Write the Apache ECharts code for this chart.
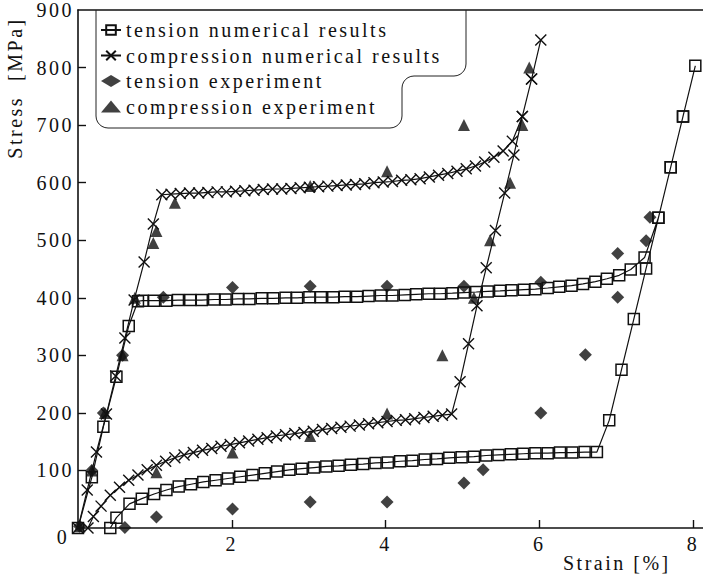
<!DOCTYPE html>
<html>
<head>
<meta charset="utf-8">
<script src="https://cdn.jsdelivr.net/npm/echarts@6/dist/echarts.min.js"></script>
<style>
    html, body { margin: 0; padding: 0; background: #fff; }
    #chart { width: 703px; height: 578px; }
    #chart text { letter-spacing: 2.5px; }
</style>
</head>
<body>
<div id="chart"></div>
<script>
// tension, numerical (strain %, stress MPa) - loading then unloading
var tensionNumLoad = [
    [0, 0], [0.18, 88], [0.33, 176], [0.5, 263], [0.66, 351], [0.78, 394],
    [0.84, 395], [0.99, 395], [1.15, 395], [1.30, 396], [1.46, 396], [1.61, 396], [1.77, 397], [1.92, 397],
    [2.08, 398], [2.23, 398], [2.39, 399], [2.54, 399], [2.70, 400], [2.85, 400], [3.01, 401], [3.16, 401],
    [3.32, 401], [3.47, 402], [3.63, 402], [3.78, 403], [3.94, 404], [4.09, 404], [4.25, 405], [4.40, 406],
    [4.56, 407], [4.71, 407], [4.87, 408], [5.02, 409], [5.18, 410], [5.33, 411], [5.49, 412], [5.64, 413],
    [5.80, 414], [5.95, 415], [6.11, 417], [6.26, 419], [6.42, 421], [6.57, 424], [6.73, 428], [6.88, 433],
    [7.04, 439], [7.19, 449], [7.37, 470],
    [7.55, 539], [7.71, 627], [7.87, 715], [8.03, 803]
];
var tensionNumUnload = [
    [7.87, 715], [7.71, 627], [7.55, 539], [7.39, 451], [7.23, 363], [7.07, 275], [6.91, 187], [6.75, 132],
    [6.59, 132], [6.43, 131], [6.27, 131], [6.11, 130], [5.95, 130], [5.79, 129], [5.63, 128], [5.47, 127],
    [5.31, 126], [5.15, 124], [4.99, 123], [4.83, 122], [4.67, 120], [4.51, 119], [4.35, 117], [4.19, 116],
    [4.03, 114], [3.87, 113], [3.71, 111], [3.55, 110], [3.39, 108], [3.23, 107], [3.07, 105], [2.91, 103],
    [2.75, 101], [2.59, 98], [2.43, 95], [2.27, 92], [2.11, 89], [1.95, 86], [1.79, 83], [1.63, 80],
    [1.47, 76], [1.31, 72], [1.15, 66], [0.99, 59], [0.83, 51], [0.67, 42], [0.5, 18], [0.42, 0]
];

// compression, numerical
var compNumLoad = [
    [0, 0], [0.12, 66], [0.24, 132], [0.37, 198], [0.49, 264], [0.61, 330], [0.73, 396], [0.86, 462],
    [0.98, 528], [1.09, 579],
    [1.21, 580], [1.33, 581], [1.45, 582], [1.57, 582], [1.69, 583], [1.81, 584], [1.93, 584], [2.05, 585],
    [2.17, 586], [2.29, 587], [2.41, 588], [2.53, 589], [2.65, 589], [2.77, 590], [2.89, 591], [3.01, 592],
    [3.13, 593], [3.25, 594], [3.37, 595], [3.49, 596], [3.61, 597], [3.73, 598], [3.85, 600], [3.97, 601],
    [4.09, 602], [4.21, 604], [4.33, 605], [4.45, 607], [4.57, 610], [4.69, 613], [4.81, 616], [4.93, 620],
    [5.05, 624], [5.17, 629], [5.29, 636], [5.41, 644], [5.53, 655], [5.65, 672],
    [5.78, 715], [5.90, 780], [6.02, 848]
];
var compNumUnload = [
    [5.90, 780], [5.78, 715], [5.67, 648], [5.55, 582], [5.43, 517], [5.31, 452], [5.19, 386], [5.08, 320],
    [4.97, 254], [4.86, 198],
    [4.74, 196], [4.62, 194], [4.50, 192], [4.38, 190], [4.26, 188], [4.14, 187], [4.02, 185], [3.90, 183],
    [3.78, 181], [3.66, 179], [3.54, 177], [3.42, 175], [3.30, 173], [3.18, 171], [3.06, 168], [2.94, 166],
    [2.82, 164], [2.70, 162], [2.58, 160], [2.46, 157], [2.34, 154], [2.22, 151], [2.10, 148], [1.98, 145],
    [1.86, 142], [1.74, 138], [1.62, 135], [1.50, 131], [1.38, 127], [1.26, 122], [1.14, 116], [1.02, 109],
    [0.90, 101], [0.78, 92], [0.66, 83], [0.54, 71], [0.42, 57], [0.30, 38], [0.20, 20], [0.13, 0]
];

// experiments
var tensionExp = [
    [0.02, 3], [0.18, 100], [0.33, 200], [0.58, 300], [1.11, 401], [2.01, 418], [3.02, 420], [4.02, 420],
    [5.02, 420], [6.02, 427], [7.02, 477], [7.39, 499], [7.44, 540], [7.02, 401], [6.6, 301], [6.02, 200],
    [5.27, 101], [5.02, 78], [4.02, 45], [3.02, 45], [2.01, 33], [1.02, 19], [0.61, 1]
];
var compExp = [
    [0.02, 3], [0.18, 100], [0.35, 200], [0.58, 300], [0.74, 400], [0.98, 495], [1.02, 516], [1.26, 565],
    [3.02, 594], [4.02, 620], [5.02, 700], [5.87, 800], [5.78, 700], [5.62, 600], [5.36, 500], [5.15, 400],
    [4.74, 300], [4.02, 199], [3.02, 160], [2.01, 131], [1.02, 97]
];

var xTicks = [2, 4, 6, 8];
var yTicks = [100, 200, 300, 400, 500, 600, 700, 800, 900];
var legendNames = ['tension numerical results', 'compression numerical results', 'tension experiment', 'compression experiment'];

var FONT = "'Liberation Serif', serif";
var crossPath = 'path://M0,0L10,10M0,10L10,0';

// rounded corner points for the legend frame
function corner(cx, cy, r, a0, a1) {
    var pts = [];
    for (var i = 0; i <= 6; i++) {
        var a = (a0 + (a1 - a0) * i / 6) * Math.PI / 180;
        pts.push([cx + r * Math.cos(a), cy + r * Math.sin(a)]);
    }
    return pts;
}
var frame = [[466, 10]]
    .concat(corner(454, 64, 12, 0, 90))
    .concat(corner(414, 88, 12, 270, 180))
    .concat(corner(390, 116, 12, 0, 90))
    .concat(corner(108, 116, 12, 90, 180))
    .concat([[96, 10]]);

var chart = echarts.init(document.getElementById('chart'), null, {renderer: 'svg'});

var option = {
    animation: false,
    backgroundColor: '#fff',
    grid: {left: 78, right: 0, top: 10, bottom: 50},
    legend: {
        data: legendNames,
        orient: 'vertical',
        left: 100,
        top: 20,
        padding: 0,
        itemWidth: 20,
        itemHeight: 12,
        itemGap: 5.5,
        textStyle: {fontFamily: FONT, fontSize: 20, lineHeight: 20, color: '#111'}
    },
    xAxis: [{
        type: 'value',
        min: 0,
        max: 8.13,
        interval: 2,
        splitLine: {show: false},
        axisLine: {lineStyle: {color: '#111', width: 1.6}},
        axisTick: {inside: true, length: 8, customValues: xTicks, lineStyle: {color: '#111', width: 1.4}},
        axisLabel: {customValues: xTicks, margin: 6, fontFamily: FONT, fontSize: 20, color: '#111'}
    }, {
        type: 'value',
        position: 'top',
        min: 0,
        max: 8.13,
        splitLine: {show: false},
        axisLine: {show: true, lineStyle: {color: '#111', width: 1.6}},
        axisTick: {show: false},
        axisLabel: {show: false}
    }],
    yAxis: {
        type: 'value',
        min: 0,
        max: 900,
        interval: 100,
        splitLine: {show: false},
        axisLine: {show: true, lineStyle: {color: '#111', width: 1.6}},
        axisTick: {inside: true, length: 8, customValues: yTicks.slice(0, 8), lineStyle: {color: '#111', width: 1.4}},
        axisLabel: {customValues: yTicks, margin: 4, fontFamily: FONT, fontSize: 20, color: '#111'}
    },
    series: [
        {
            name: legendNames[0],
            type: 'line',
            data: tensionNumLoad.concat(tensionNumUnload),
            symbol: 'rect',
            symbolSize: 11,
            lineStyle: {color: '#111', width: 1.2},
            itemStyle: {color: 'rgba(0,0,0,0)', borderColor: '#111', borderWidth: 1.5}
        },
        {
            name: legendNames[1],
            type: 'line',
            data: compNumLoad.concat(compNumUnload),
            symbol: crossPath,
            symbolSize: 11,
            lineStyle: {color: '#111', width: 1.2},
            itemStyle: {color: 'rgba(0,0,0,0)', borderColor: '#111', borderWidth: 1.4}
        },
        {
            name: legendNames[2],
            type: 'scatter',
            data: tensionExp,
            symbol: 'diamond',
            symbolSize: 13,
            itemStyle: {color: '#111'}
        },
        {
            name: legendNames[3],
            type: 'scatter',
            data: compExp,
            symbol: 'triangle',
            symbolSize: 12,
            itemStyle: {color: '#111'}
        }
    ],
    graphic: [
        {
            type: 'polyline',
            shape: {points: frame},
            style: {fill: 'none', stroke: '#222', lineWidth: 1},
            z: 10
        },
        {
            type: 'text', x: 63, y: 537,
            style: {text: '0', font: '20px ' + FONT, fill: '#111', textAlign: 'center', textVerticalAlign: 'middle'}
        },
        {
            type: 'text', x: 563, y: 563,
            style: {text: 'Strain [%]', font: '20px ' + FONT, fill: '#111', textAlign: 'left', textVerticalAlign: 'middle'}
        },
        {
            type: 'text', x: 15, y: 88, rotation: Math.PI / 2,
            style: {text: 'Stress  [MPa]', font: '20px ' + FONT, fill: '#111', textAlign: 'center', textVerticalAlign: 'middle'}
        }
    ]
};

chart.setOption(option);
</script>
</body>
</html>
